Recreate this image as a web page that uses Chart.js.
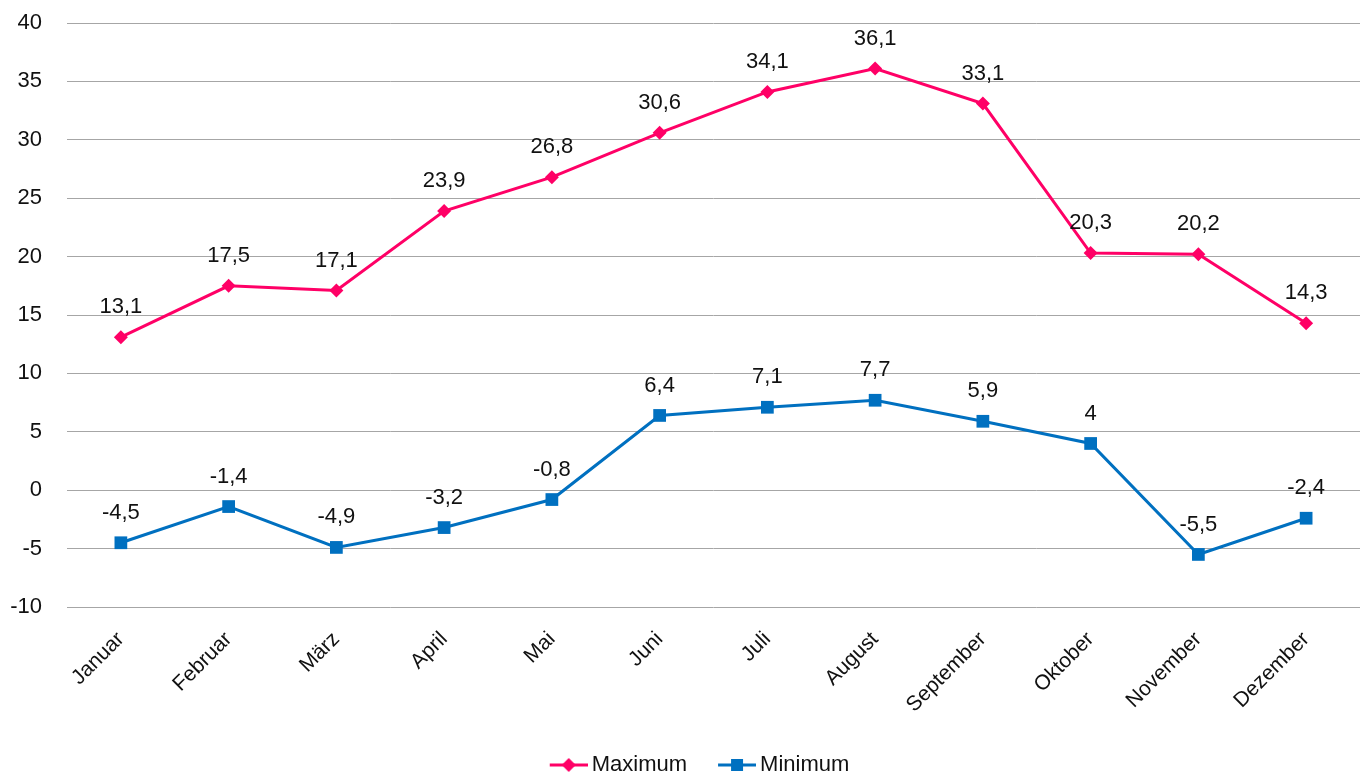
<!DOCTYPE html>
<html>
<head>
<meta charset="utf-8">
<script src="https://cdn.jsdelivr.net/npm/chart.js@4/dist/chart.umd.min.js"></script>
<style>
    html, body { margin: 0; padding: 0; background: #fff; }
    #wrap { width: 1365px; height: 774px; position: relative; }
</style>
</head>
<body>
<div id="wrap"><canvas id="tempChart"></canvas></div>
<script>
/* --- Data --- */
const months = ['Januar', 'Februar', 'März', 'April', 'Mai', 'Juni', 'Juli', 'August', 'September', 'Oktober', 'November', 'Dezember'];
const maxTemps = [13.1, 17.5, 17.1, 23.9, 26.8, 30.6, 34.1, 36.1, 33.1, 20.3, 20.2, 14.3];
const minTemps = [-4.5, -1.4, -4.9, -3.2, -0.8, 6.4, 7.1, 7.7, 5.9, 4, -5.5, -2.4];
const yTicks = [-10, -5, 0, 5, 10, 15, 20, 25, 30, 35, 40];

const PINK = '#ff0066';
const BLUE = '#0070c0';
const FONT = "'Liberation Sans', Arial, sans-serif";

// legend swatch: transparent lead-in, then line with the marker in the middle
function legendIcon(color, style) {
    const c = document.createElement('canvas');
    c.width = 74; c.height = 16;
    const g = c.getContext('2d');
    const x0 = 36, x1 = 74, mid = (x0 + x1) / 2;
    g.strokeStyle = color;
    g.lineWidth = 3;
    g.beginPath(); g.moveTo(x0, 8); g.lineTo(x1, 8); g.stroke();
    g.fillStyle = color;
    if (style === 'rectRot') {
        g.beginPath(); g.moveTo(mid, 1); g.lineTo(mid + 7, 8); g.lineTo(mid, 15); g.lineTo(mid - 7, 8); g.closePath(); g.fill();
    } else {
        g.fillRect(mid - 6, 2, 12, 12);
    }
    return c;
}

// value labels above each point, German decimal comma
const valueLabels = {
    id: 'valueLabels',
    afterDatasetsDraw(chart) {
        const ctx = chart.ctx;
        ctx.save();
        ctx.font = '22px ' + FONT;
        ctx.fillStyle = '#111';
        ctx.textAlign = 'center';
        ctx.textBaseline = 'middle';
        chart.data.datasets.forEach((ds, i) => {
            chart.getDatasetMeta(i).data.forEach((pt, j) => {
                const txt = String(ds.data[j]).replace('.', ',');
                ctx.fillText(txt, pt.x, pt.y - 30);
            });
        });
        ctx.restore();
    }
};

const ctx = document.getElementById('tempChart');
new Chart(ctx, {
    type: 'line',
    data: {
        labels: months,
        datasets: [
            {
                label: 'Maximum',
                data: maxTemps,
                borderColor: PINK,
                backgroundColor: PINK,
                borderWidth: 3,
                tension: 0,
                pointStyle: 'rectRot',
                pointRadius: 7,
                pointBorderWidth: 0
            },
            {
                label: 'Minimum',
                data: minTemps,
                borderColor: BLUE,
                backgroundColor: BLUE,
                borderWidth: 3,
                tension: 0,
                pointStyle: 'rect',
                pointRadius: 9,
                pointBorderWidth: 0
            }
        ]
    },
    options: {
        responsive: true,
        maintainAspectRatio: false,
        animation: false,
        layout: { autoPadding: false, padding: { top: 23, right: 5, left: 10, bottom: -12 } },
        plugins: {
            legend: {
                position: 'bottom',
                labels: {
                    usePointStyle: true,
                    pointStyleWidth: 60,
                    color: '#111',
                    font: { family: FONT, size: 22 },
                    padding: 2,
                    generateLabels: (chart) => chart.data.datasets.map((ds, i) => ({
                        text: ds.label,
                        pointStyle: legendIcon(ds.borderColor, ds.pointStyle),
                        fillStyle: ds.borderColor,
                        strokeStyle: ds.borderColor,
                        fontColor: '#111',
                        lineWidth: 0,
                        datasetIndex: i
                    }))
                }
            },
            tooltip: { enabled: false }
        },
        scales: {
            x: {
                offset: true,
                grid: { display: false },
                border: { display: false },
                ticks: {
                    minRotation: 45,
                    maxRotation: 45,
                    color: '#111',
                    font: { family: FONT, size: 21 },
                    padding: 12
                },
                afterFit: (axis) => {
                    axis.height = 145;
                    axis.paddingLeft = 0;
                    axis.paddingRight = 0;
                }
            },
            y: {
                min: -10,
                max: 40,
                afterBuildTicks: (axis) => { axis.ticks = yTicks.map(v => ({ value: v })); },
                grid: { color: '#a6a6a6', lineWidth: 1, drawTicks: false },
                border: { display: false },
                ticks: {
                    color: '#111',
                    font: { family: FONT, size: 22 },
                    padding: 25
                },
                afterFit: (axis) => {
                    axis.width = 57;
                    axis.paddingTop = 0;
                    axis.paddingBottom = 0;
                }
            }
        }
    },
    plugins: [valueLabels]
});
</script>
</body>
</html>
